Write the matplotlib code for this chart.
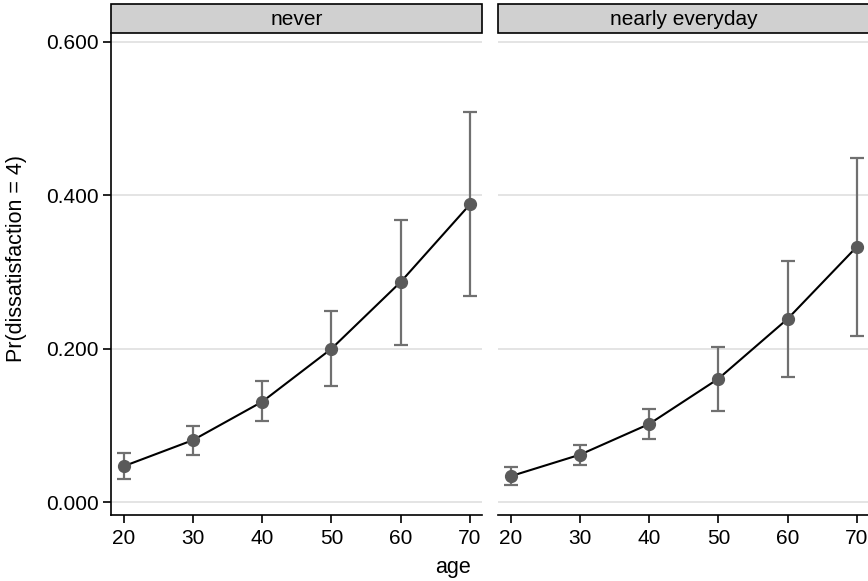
import matplotlib
matplotlib.use('Agg')
import matplotlib.pyplot as plt
from matplotlib.patches import Rectangle

plt.rcParams['font.family'] = ['Liberation Sans', 'DejaVu Sans']

age = [20, 30, 40, 50, 60, 70]
panels = ['never', 'nearly everyday']

never_est = [0.047, 0.081, 0.131, 0.200, 0.287, 0.388]
never_lo = [0.030, 0.062, 0.106, 0.152, 0.205, 0.269]
never_hi = [0.064, 0.100, 0.158, 0.249, 0.368, 0.508]

daily_est = [0.034, 0.062, 0.102, 0.161, 0.239, 0.333]
daily_lo = [0.023, 0.049, 0.082, 0.119, 0.163, 0.216]
daily_hi = [0.046, 0.074, 0.122, 0.202, 0.314, 0.449]

yticks = [0.0, 0.2, 0.4, 0.6]
ytick_labels = ['0.000', '0.200', '0.400', '0.600']

W, H = 868, 581
fig = plt.figure(figsize=(W / 100, H / 100), dpi=100)

def px(x0, y0, x1, y1):
    return [x0 / W, 1 - y1 / H, (x1 - x0) / W, (y1 - y0) / H]

series = [(never_est, never_lo, never_hi), (daily_est, daily_lo, daily_hi)]
lefts = [111, 498]
fs = 15

for i, (name, (est, lo, hi)) in enumerate(zip(panels, series)):
    x0 = lefts[i]
    ax = fig.add_axes(px(x0, 33, x0 + 371, 515))
    ax.set_xlim(18.15, 71.75)
    ax.set_ylim(-0.0166, 0.6114)
    for y in yticks:
        ax.axhline(y, color='#e2e2e2', lw=1.3, zorder=0)
    yerr = [[e - l for e, l in zip(est, lo)], [h - e for e, h in zip(est, hi)]]
    ax.errorbar(age, est, yerr=yerr, fmt='none', ecolor='#707070', elinewidth=1.6,
                capsize=5, capthick=1.6, zorder=2)
    ax.plot(age, est, color='black', lw=1.5, zorder=3)
    ax.plot(age, est, 'o', color='#5a5a5a', ms=8.5, zorder=4)
    for s in ['top', 'right']:
        ax.spines[s].set_visible(False)
    ax.spines['bottom'].set_linewidth(1.2)
    ax.set_xticks(age)
    ax.tick_params(axis='x', labelsize=fs, length=6, width=1.2, pad=4)
    if i == 0:
        ax.spines['left'].set_linewidth(1.2)
        ax.set_yticks(yticks)
        ax.set_yticklabels(ytick_labels)
        ax.tick_params(axis='y', labelsize=fs, length=6, width=1.2, pad=3)
    else:
        ax.spines['left'].set_visible(False)
        ax.set_yticks([])
    sax = fig.add_axes(px(x0, 4, x0 + 371, 33))
    sax.set_xlim(0, 1)
    sax.set_ylim(0, 1)
    sax.axis('off')
    sax.add_patch(Rectangle((0, 0), 1, 1, facecolor='#d0d0d0', edgecolor='black',
                            lw=1.2, transform=sax.transAxes, clip_on=False))
    sax.text(0.5, 0.48, name, ha='center', va='center', fontsize=fs)

fig.text(17 / W, 1 - 258 / H, 'Pr(dissatisfaction = 4)', rotation=90,
         ha='center', va='center', fontsize=15.5)
fig.text(453 / W, 1 - 567 / H, 'age', ha='center', va='center', fontsize=15.5)

fig.savefig('out.png', dpi=100)
